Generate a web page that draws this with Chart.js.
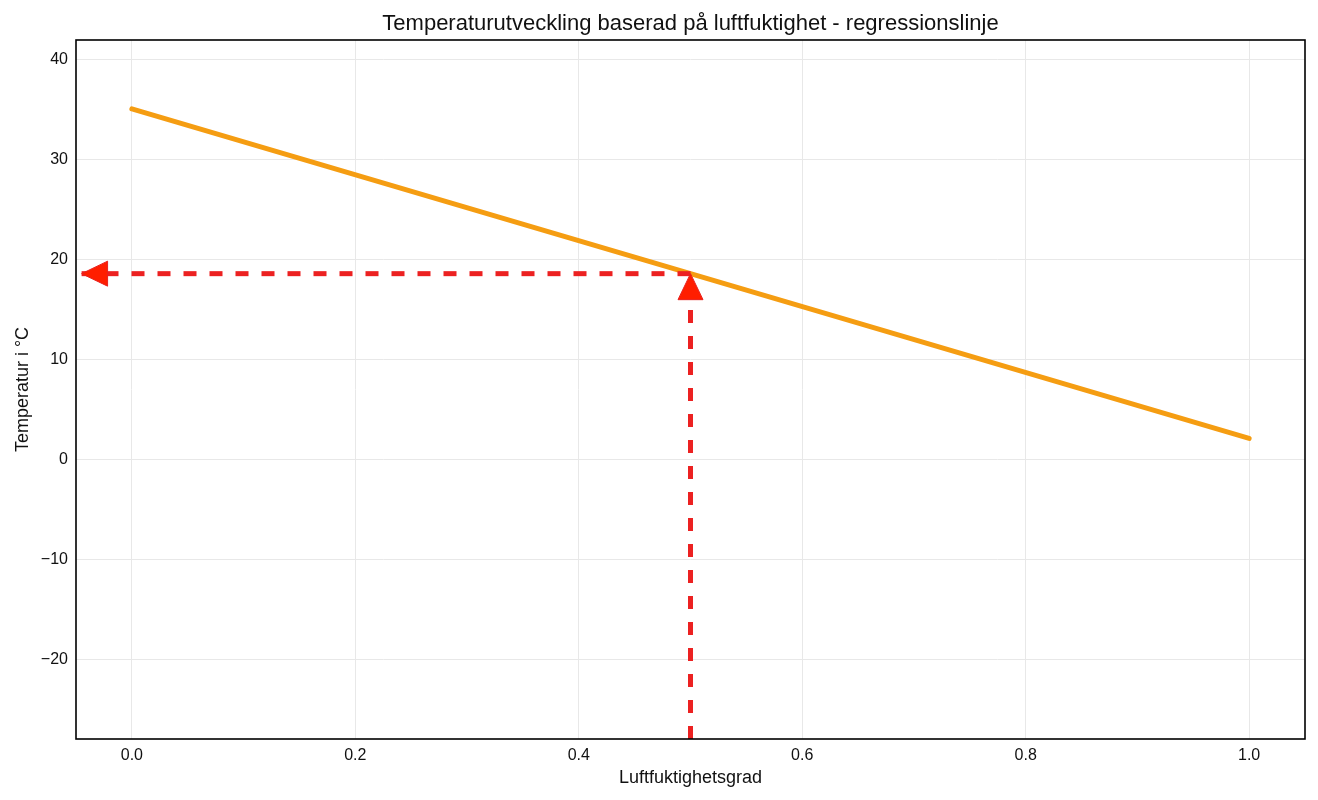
<!DOCTYPE html>
<html lang="sv">
<head>
<meta charset="utf-8">
<title>Temperaturutveckling baserad på luftfuktighet</title>
<script src="https://cdn.jsdelivr.net/npm/chart.js@4.4.1/dist/chart.umd.min.js"></script>
<style>
  html, body { margin: 0; padding: 0; background: #fff; }
  #wrap { width: 1318px; height: 800px; position: relative; }
</style>
</head>
<body>
<div id="wrap"><canvas id="chart"></canvas></div>
<script>
// regression line (humidity 0..1 -> temperature)
const humidity = [0, 1];
const temperature = [35.1, 2.1];

const guideX = [0.5, -0.045];
const guideY = [18.6, 18.6];
const dropX = [0.5, 0.5];
const dropY = [-28, 18.6];

// axis ranges and ticks
const xRange = [-0.05, 1.05];
const yRange = [-28, 42];
const xTicks = [0, 0.2, 0.4, 0.6, 0.8, 1.0];
const yTicks = [-20, -10, 0, 10, 20, 30, 40];

const font = "'Liberation Sans', Arial, Helvetica, sans-serif";

function toPoints(xs, ys) {
  return xs.map((x, i) => ({ x: x, y: ys[i] }));
}

// draws the box around the plot area
const frame = {
  id: "frame",
  afterDraw(chart) {
    const a = chart.chartArea;
    const ctx = chart.ctx;
    ctx.save();
    ctx.strokeStyle = "#000";
    ctx.lineWidth = 1.6;
    ctx.strokeRect(a.left, a.top, a.right - a.left, a.bottom - a.top);
    ctx.restore();
  }
};

// filled triangle at the end of datasets flagged with arrowHead
const arrowHeads = {
  id: "arrowHeads",
  afterDatasetsDraw(chart) {
    const ctx = chart.ctx;
    chart.data.datasets.forEach((ds, i) => {
      if (!ds.arrowHead) return;
      const pts = chart.getDatasetMeta(i).data;
      const tip = pts[pts.length - 1];
      const prev = pts[pts.length - 2];
      const ang = Math.atan2(tip.y - prev.y, tip.x - prev.x);
      const len = 26, half = 12.5;
      const bx = tip.x - Math.cos(ang) * len;
      const by = tip.y - Math.sin(ang) * len;
      const px = -Math.sin(ang) * half;
      const py = Math.cos(ang) * half;
      ctx.save();
      ctx.beginPath();
      ctx.moveTo(tip.x, tip.y);
      ctx.lineTo(bx + px, by + py);
      ctx.lineTo(bx - px, by - py);
      ctx.closePath();
      ctx.fillStyle = "#ff1e00";
      ctx.fill();
      ctx.strokeStyle = "#e8211f";
      ctx.lineWidth = 1;
      ctx.stroke();
      ctx.restore();
    });
  }
};

new Chart(document.getElementById("chart"), {
  type: "scatter",
  data: {
    datasets: [
      {
        label: "Regressionslinje",
        data: toPoints(humidity, temperature),
        showLine: true,
        borderColor: "#f59d12",
        borderWidth: 5,
        borderCapStyle: "round",
        pointRadius: 0,
        order: 2
      },
      {
        label: "Temperatur",
        data: toPoints(guideX, guideY),
        showLine: true,
        borderColor: "#ec2121",
        borderWidth: 5,
        borderDash: [13, 13],
        borderCapStyle: "butt",
        pointRadius: 0,
        arrowHead: true,
        order: 1
      },
      {
        label: "Luftfuktighet",
        data: toPoints(dropX, dropY),
        showLine: true,
        borderColor: "#ec2121",
        borderWidth: 5,
        borderDash: [13, 13],
        borderCapStyle: "butt",
        pointRadius: 0,
        arrowHead: true,
        order: 1
      }
    ]
  },
  options: {
    responsive: true,
    maintainAspectRatio: false,
    animation: false,
    layout: { padding: { left: 0, right: 13, top: 0, bottom: 0 } },
    plugins: {
      legend: { display: false },
      tooltip: { enabled: false },
      title: {
        display: true,
        fullSize: false,
        text: "Temperaturutveckling baserad på luftfuktighet - regressionslinje",
        color: "#111",
        font: { family: font, size: 22, weight: "normal" },
        padding: { top: 11, bottom: 2.6 }
      }
    },
    scales: {
      x: {
        type: "linear",
        min: xRange[0],
        max: xRange[1],
        afterBuildTicks: s => { s.ticks = xTicks.map(v => ({ value: v })); },
        afterFit: s => { s.height = 61; },
        grid: { color: "#e8e8e8", lineWidth: 1, drawTicks: false },
        border: { display: false },
        ticks: {
          color: "#111",
          padding: 7,
          font: { family: font, size: 16 },
          callback: v => v.toFixed(1)
        },
        title: {
          display: true,
          text: "Luftfuktighetsgrad",
          color: "#111",
          font: { family: font, size: 18 },
          padding: { top: 4, bottom: 11 }
        }
      },
      y: {
        type: "linear",
        min: yRange[0],
        max: yRange[1],
        afterBuildTicks: s => { s.ticks = yTicks.map(v => ({ value: v })); },
        afterFit: s => { s.width = 76; },
        grid: { color: "#e8e8e8", lineWidth: 1, drawTicks: false },
        border: { display: false },
        ticks: {
          color: "#111",
          padding: 8,
          font: { family: font, size: 16 },
          callback: v => (v < 0 ? "\u2212" + Math.abs(v) : String(v))
        },
        title: {
          display: true,
          text: "Temperatur i °C",
          color: "#111",
          font: { family: font, size: 18 },
          padding: { top: 12, bottom: 4 }
        }
      }
    }
  },
  plugins: [frame, arrowHeads]
});
</script>
</body>
</html>
